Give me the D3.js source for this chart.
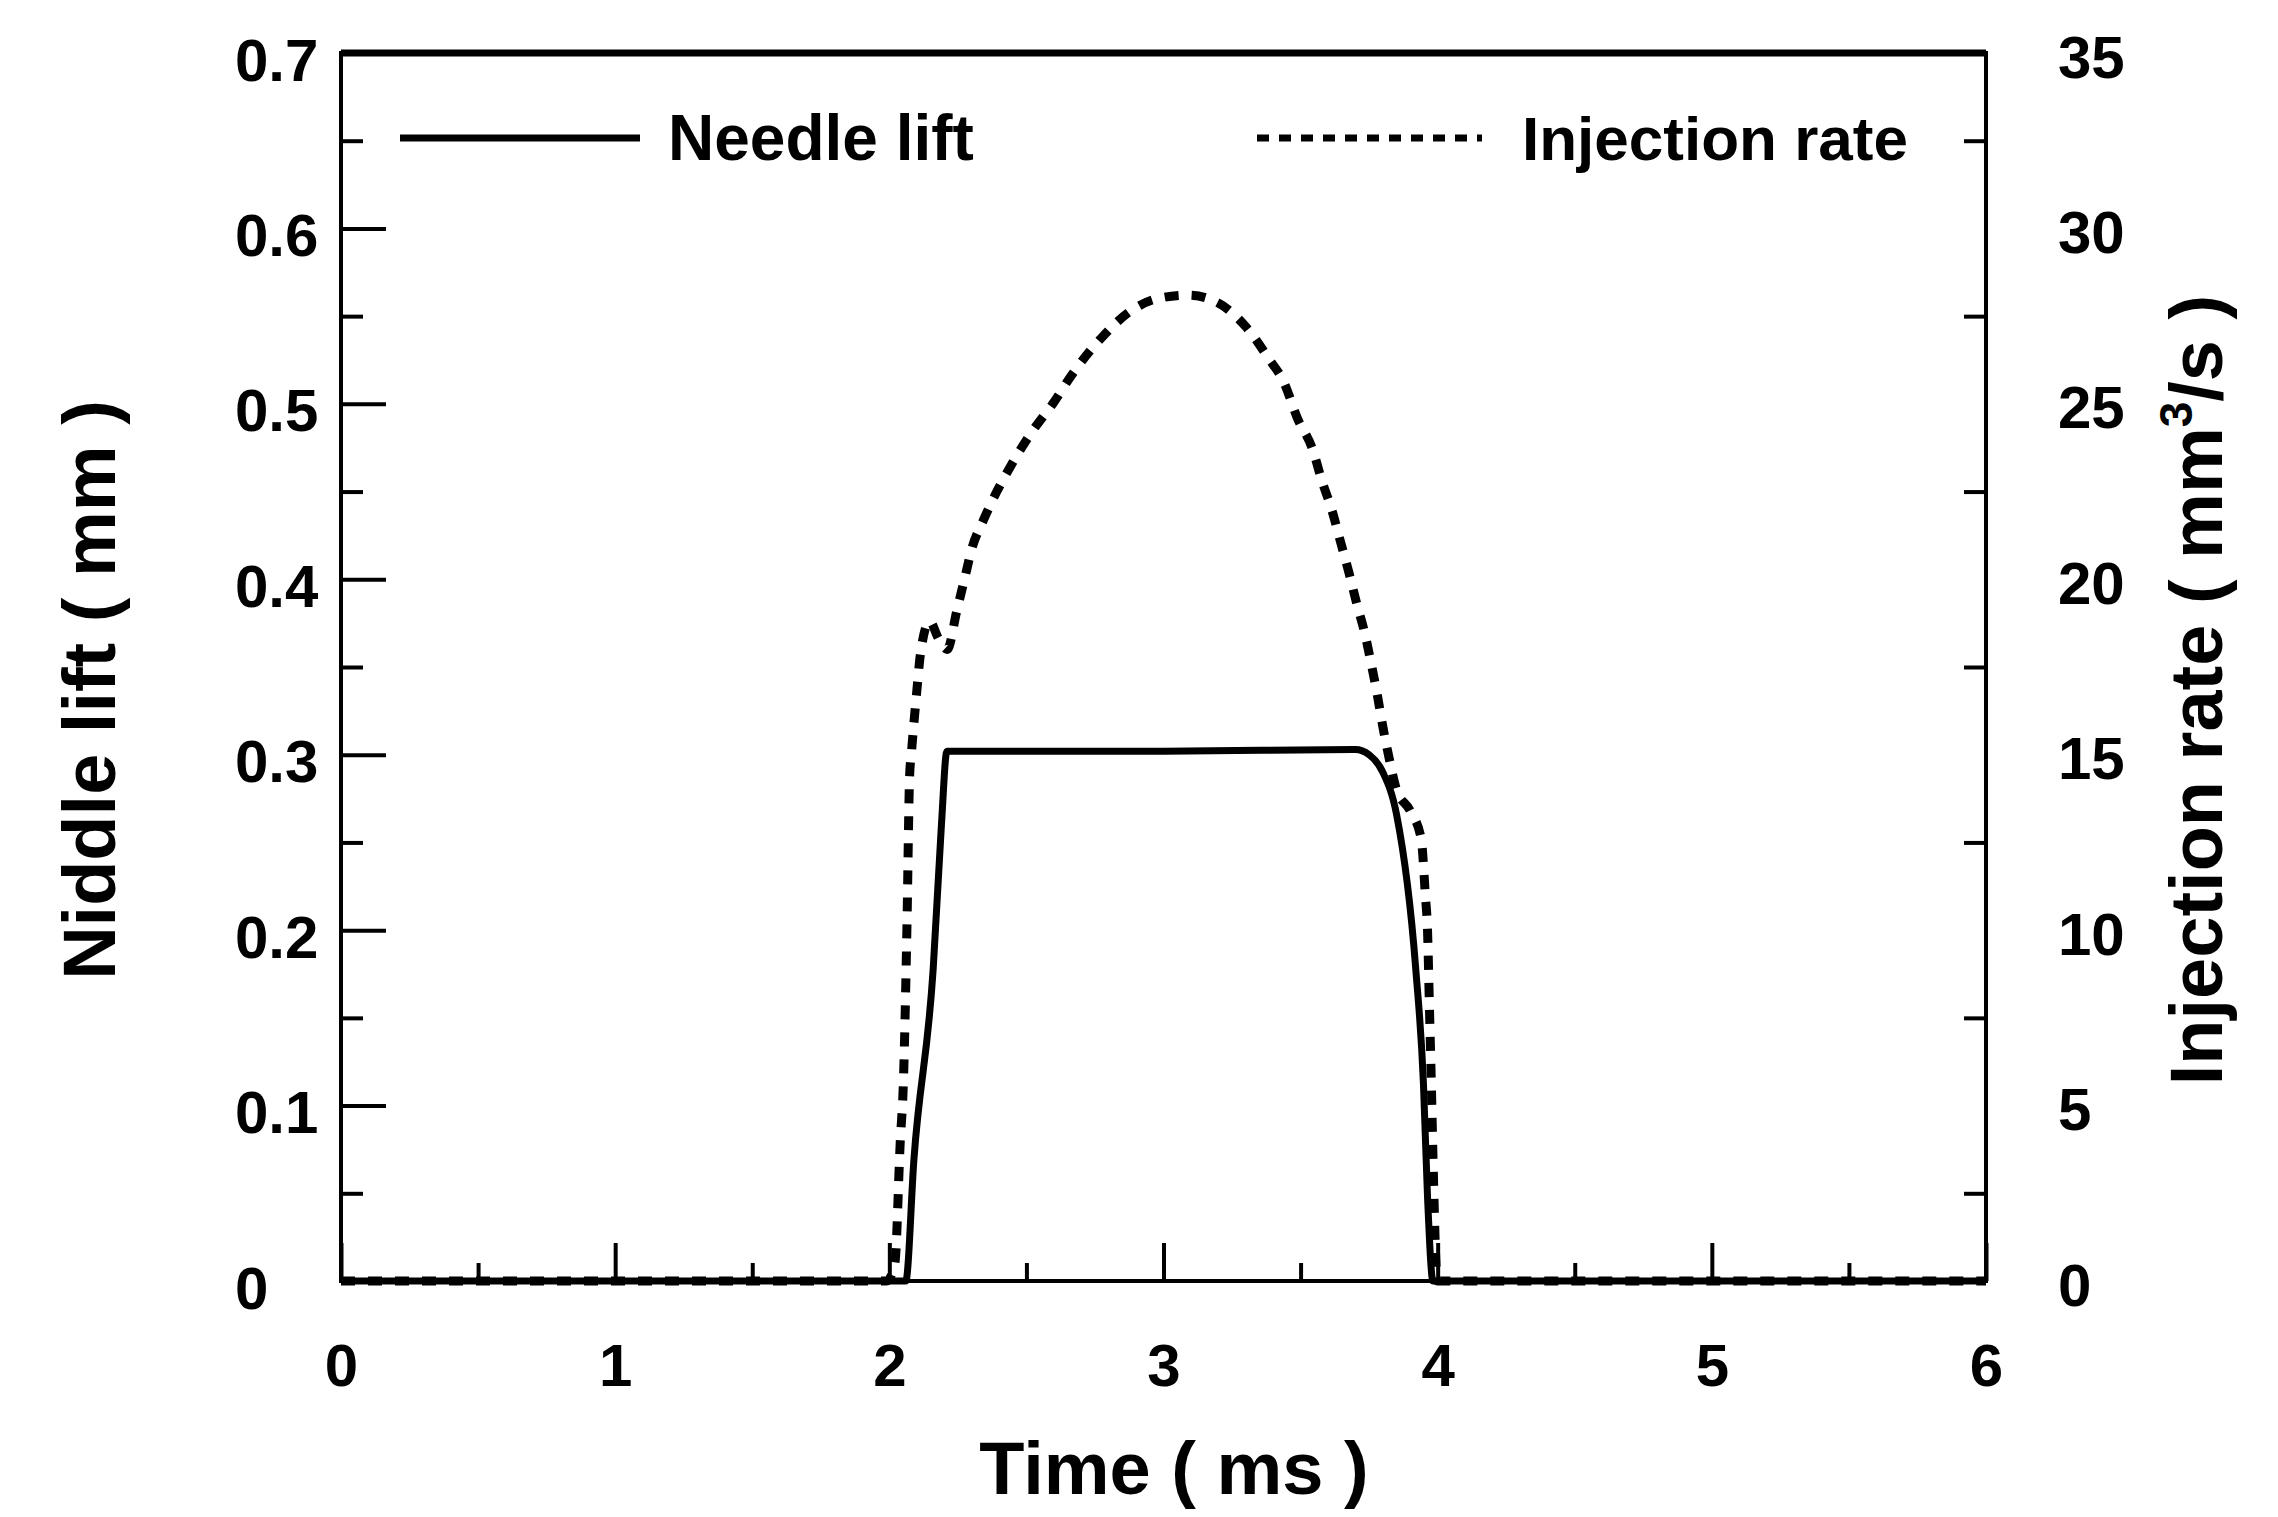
<!DOCTYPE html>
<html>
<head>
<meta charset="utf-8">
<script src="https://cdn.jsdelivr.net/npm/d3@7"></script>
<style>
  html, body { margin: 0; padding: 0; background: #fff; }
  svg { display: block; }
  text { font-family: "Liberation Sans", Arial, sans-serif; fill: #000; }
</style>
</head>
<body>
<script>
// ---- data ----
const needleTime = [0, 2.0, 2.06, 2.09, 2.16, 2.19, 2.21, 2.3, 3.0, 3.7, 3.75, 3.8, 3.85, 3.92, 3.948, 3.963, 3.983, 4.0, 6];
const needleLift = [0, 0, 0, 0.07, 0.178, 0.26, 0.302, 0.302, 0.302, 0.303, 0.3, 0.29, 0.266, 0.178, 0.113, 0.048, 0, 0, 0];

const rateTime = [0, 1.99, 2.02, 2.04, 2.051, 2.064, 2.074, 2.08, 2.10, 2.114, 2.147, 2.18, 2.211, 2.246, 2.274, 2.302, 2.344, 2.392, 2.448, 2.52, 2.596, 2.672, 2.776, 2.872, 2.978, 3.09, 3.194, 3.30, 3.383, 3.44, 3.488, 3.544, 3.578, 3.613, 3.648, 3.676, 3.705, 3.733, 3.76, 3.78, 3.80, 3.823, 3.85, 3.90, 3.94, 3.955, 3.963, 3.97, 3.977, 3.983, 3.996, 4.0, 6];
const injectionRate = [0, 0, 0.5, 4, 5.6, 10, 14.4, 15, 16.8, 17.9, 18.8, 18.3, 18.0, 19.1, 20.0, 20.9, 21.7, 22.5, 23.3, 24.2, 25.0, 25.9, 26.9, 27.6, 28.0, 28.1, 27.9, 27.2, 26.3, 25.6, 24.6, 23.7, 22.8, 22.0, 21.0, 20.2, 19.3, 18.5, 17.5, 16.7, 15.8, 14.9, 14.0, 13.4, 12.6, 11.0, 10.0, 7.8, 5.6, 3.5, 0.2, 0, 0];

const xTicks = [0, 1, 2, 3, 4, 5, 6];
const xMinorTicks = [0.5, 1.5, 2.5, 3.5, 4.5, 5.5];
const leftTicks = [0, 0.1, 0.2, 0.3, 0.4, 0.5, 0.6, 0.7];
const leftMinorTicks = [0.05, 0.15, 0.25, 0.35, 0.45, 0.55, 0.65];
const rightTicks = [0, 5, 10, 15, 20, 25, 30, 35];
const rightMinorTicks = [2.5, 7.5, 12.5, 17.5, 22.5, 27.5, 32.5];

const xTitle = "Time ( ms )";
const leftTitle = "Niddle lift ( mm )";
const legendLabels = ["Needle lift", "Injection rate"];

// ---- layout ----
const W = 2278, H = 1517;
const L = 341, R = 1986, T = 53, B = 1281;

const svg = d3.select("body").append("svg").attr("width", W).attr("height", H);

const x = d3.scaleLinear().domain([0, 6]).range([L, R]);
const yL = d3.scaleLinear().domain([0, 0.7]).range([B, T]);
const yR = d3.scaleLinear().domain([0, 35]).range([B, T]);

const fontSize = 60;

// frame
svg.append("rect").attr("x", L).attr("y", T).attr("width", R - L).attr("height", B - T)
  .attr("fill", "none").attr("stroke", "#000").attr("stroke-width", 4);
svg.append("line").attr("x1", L).attr("x2", R).attr("y1", T).attr("y2", T)
  .attr("stroke", "#000").attr("stroke-width", 7);

function styleAxis(g) {
  g.select(".domain").remove();
  g.selectAll("line").attr("stroke", "#000").attr("stroke-width", 4);
}

// bottom axis
svg.append("g").attr("transform", `translate(0,${B})`)
  .call(d3.axisBottom(x).tickValues(xTicks).tickSizeInner(-38).tickSizeOuter(0).tickPadding(62).tickFormat(d3.format("d")))
  .call(styleAxis)
  .call(g => g.selectAll("text").attr("font-size", fontSize).attr("font-weight", "bold").attr("font-family", "Liberation Sans, Arial, sans-serif"));
svg.append("g").attr("transform", `translate(0,${B})`)
  .call(d3.axisBottom(x).tickValues(xMinorTicks).tickSizeInner(-18).tickSizeOuter(0).tickFormat(""))
  .call(styleAxis);

// left axis
svg.append("g").attr("transform", `translate(${L},0)`)
  .call(d3.axisLeft(yL).tickValues(leftTicks).tickSizeInner(-45).tickSizeOuter(0)
    .tickFormat(d => d === 0 ? "0" : d3.format(".1f")(d)))
  .call(styleAxis)
  .call(g => g.selectAll("text").attr("text-anchor", "start").attr("x", -L + 235).attr("dy", "0.45em")
    .attr("font-size", fontSize).attr("font-weight", "bold").attr("font-family", "Liberation Sans, Arial, sans-serif"));
svg.append("g").attr("transform", `translate(${L},0)`)
  .call(d3.axisLeft(yL).tickValues(leftMinorTicks).tickSizeInner(-22).tickSizeOuter(0).tickFormat(""))
  .call(styleAxis);

// right axis
svg.append("g").attr("transform", `translate(${R},0)`)
  .call(d3.axisRight(yR).tickValues(rightTicks).tickSizeInner(0).tickSizeOuter(0).tickFormat(d3.format("d")))
  .call(styleAxis)
  .call(g => g.selectAll("text").attr("text-anchor", "start").attr("x", 2058 - R).attr("dy", "0.4em")
    .attr("font-size", fontSize).attr("font-weight", "bold").attr("font-family", "Liberation Sans, Arial, sans-serif"));
svg.append("g").attr("transform", `translate(${R},0)`)
  .call(d3.axisRight(yR).tickValues(rightMinorTicks).tickSizeInner(-22).tickSizeOuter(0).tickFormat(""))
  .call(styleAxis);

// titles
svg.append("text").attr("x", 1174).attr("y", 1494).attr("text-anchor", "middle")
  .attr("font-size", 74).attr("font-weight", "bold").text(xTitle);

svg.append("text").attr("transform", "translate(115,690) rotate(-90)").attr("text-anchor", "middle")
  .attr("font-size", 74).attr("font-weight", "bold").text(leftTitle);

const rt = svg.append("text").attr("transform", "translate(2222,690) rotate(-90)").attr("text-anchor", "middle")
  .attr("font-size", 74).attr("font-weight", "bold");
rt.append("tspan").text("Injection rate ( mm");
rt.append("tspan").attr("font-size", 46).attr("dy", -30).text("3");
rt.append("tspan").attr("dy", 30).text("/s )");

// lines
const needleData = needleTime.map((t, i) => ({ t, v: needleLift[i] }));
const rateData = rateTime.map((t, i) => ({ t, v: injectionRate[i] }));

svg.append("path").datum(needleData)
  .attr("fill", "none").attr("stroke", "#000").attr("stroke-width", 7).attr("stroke-linejoin", "round")
  .attr("d", d3.line().x(d => x(d.t)).y(d => yL(d.v)).curve(d3.curveMonotoneX));

svg.append("path").datum(rateData)
  .attr("fill", "none").attr("stroke", "#000").attr("stroke-width", 9)
  .attr("stroke-dasharray", "14,13")
  .attr("d", d3.line().x(d => x(d.t)).y(d => yR(d.v)).curve(d3.curveMonotoneX));

// legend
const legY = 138;
svg.append("line").attr("x1", 400).attr("x2", 640).attr("y1", legY).attr("y2", legY)
  .attr("stroke", "#000").attr("stroke-width", 7);
svg.append("text").attr("x", 668).attr("y", legY + 22).attr("font-size", 64).attr("font-weight", "bold")
  .text(legendLabels[0]);
svg.append("line").attr("x1", 1257).attr("x2", 1482).attr("y1", legY).attr("y2", legY)
  .attr("stroke", "#000").attr("stroke-width", 7).attr("stroke-dasharray", "12,10");
svg.append("text").attr("x", 1522).attr("y", legY + 22).attr("font-size", 62).attr("font-weight", "bold")
  .text(legendLabels[1]);
</script>
</body>
</html>
